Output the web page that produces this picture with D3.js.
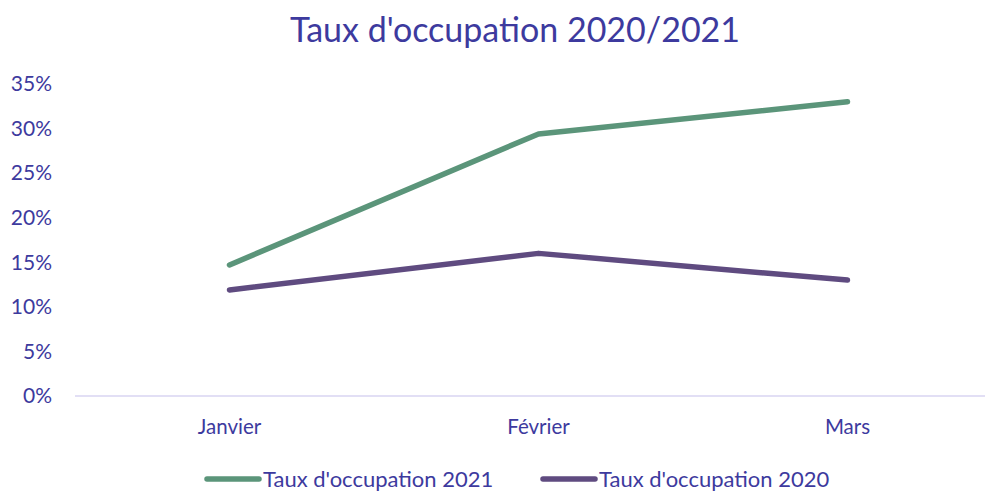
<!DOCTYPE html>
<html lang="fr">
<head>
<meta charset="utf-8">
<script src="https://cdn.jsdelivr.net/npm/d3@7"></script>
<style>
  body {margin: 0; background: #fff;}
  text {font-family: Lato, "Open Sans", sans-serif; fill: #3d3a9e;}
</style>
</head>
<body>
<script>
    const months = ["Janvier", "Février", "Mars"];
    const taux2021 = [0.147, 0.294, 0.330];
    const taux2020 = [0.119, 0.160, 0.130];
    const yTicks = [0, 0.05, 0.10, 0.15, 0.20, 0.25, 0.30, 0.35];

    const series = [
        {name: "Taux d'occupation 2021", values: taux2021, color: "#5b957a"},
        {name: "Taux d'occupation 2020", values: taux2020, color: "#5f4b80"}
    ];

    const width = 993, height = 492;
    const margin = {top: 84, right: 8, bottom: 96, left: 75};

    const svg = d3.select("body").append("svg")
        .attr("width", width)
        .attr("height", height);

    const x = d3.scaleBand()
        .domain(months)
        .range([margin.left, width - margin.right + 17]);

    const y = d3.scaleLinear()
        .domain([0, 0.35])
        .range([height - margin.bottom, margin.top]);

    // title
    svg.append("text")
        .attr("x", 515)
        .attr("y", 42)
        .attr("text-anchor", "middle")
        .style("font-size", "34px")
        .text("Taux d'occupation 2020/2021");

    // y labels (no grid lines)
    svg.selectAll(".ylab")
        .data(yTicks)
        .join("text")
        .attr("class", "ylab")
        .attr("x", 52)
        .attr("y", d => y(d))
        .attr("dy", "0.35em")
        .attr("text-anchor", "end")
        .style("font-size", "21px")
        .text(d3.format(".0%"));

    // baseline
    svg.append("line")
        .attr("x1", margin.left)
        .attr("x2", width - margin.right)
        .attr("y1", y(0))
        .attr("y2", y(0))
        .attr("stroke", "#d8d4f2")
        .attr("stroke-width", 1.5);

    // x labels
    svg.selectAll(".xlab")
        .data(months)
        .join("text")
        .attr("class", "xlab")
        .attr("x", d => x(d) + x.bandwidth() / 2)
        .attr("y", y(0) + 38)
        .attr("text-anchor", "middle")
        .style("font-size", "20.5px")
        .text(d => d);

    const line = d3.line()
        .x((d, i) => x(months[i]) + x.bandwidth() / 2)
        .y(d => y(d));

    svg.selectAll(".series")
        .data(series)
        .join("path")
        .attr("class", "series")
        .attr("d", d => line(d.values))
        .attr("fill", "none")
        .attr("stroke", d => d.color)
        .attr("stroke-width", 5.5)
        .attr("stroke-linecap", "round")
        .attr("stroke-linejoin", "round");

    // legend
    const legendX = [205, 541];
    const legend = svg.selectAll(".legend")
        .data(series)
        .join("g")
        .attr("class", "legend")
        .attr("transform", (d, i) => `translate(${legendX[i]}, 479)`);

    legend.append("line")
        .attr("x1", 2).attr("x2", 54)
        .attr("stroke", d => d.color)
        .attr("stroke-width", 5.5)
        .attr("stroke-linecap", "round");

    legend.append("text")
        .attr("x", 58)
        .attr("dy", "0.35em")
        .style("font-size", "22px")
        .text(d => d.name);
</script>
</body>
</html>
